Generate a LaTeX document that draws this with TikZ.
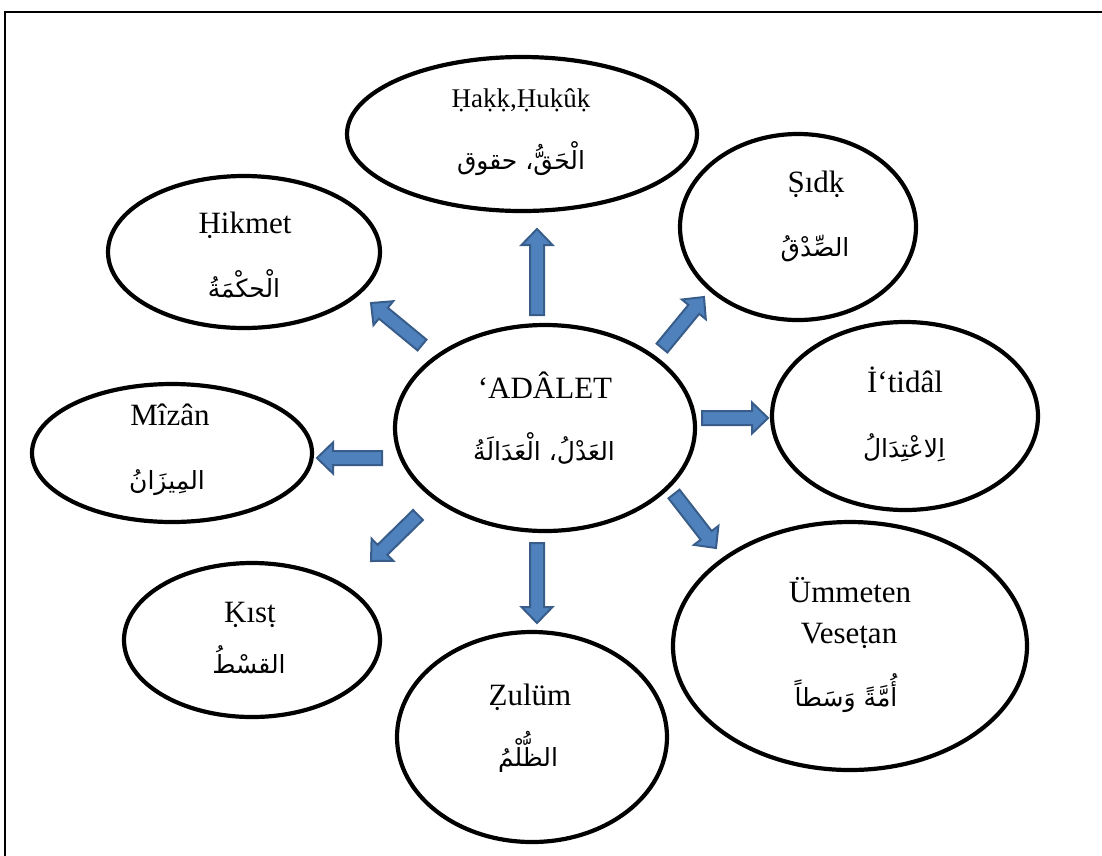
\documentclass[tikz,border=0pt]{standalone}
\usepackage{fontspec}
\setmainfont{Liberation Serif}
\newfontfamily\arabicfont[Script=Arabic]{DejaVu Sans}
\TeXXeTstate=1
\usetikzlibrary{calc,shapes.geometric}

\definecolor{arrowfill}{HTML}{4F81BD}
\definecolor{arrowline}{HTML}{385D8A}

\tikzset{
  bubble/.style={draw=black, line width=4.2pt, ellipse, fill=white, inner sep=0pt},
  lat/.style={inner sep=0pt, anchor=base, font=\fontsize{31}{36}\selectfont},
  latsmall/.style={lat, font=\fontsize{27}{32}\selectfont},
  ara/.style={inner sep=0pt, anchor=base, font=\arabicfont\fontsize{25}{30}\selectfont},
  flow/.style={fill=arrowfill, draw=arrowline, line width=2pt, line join=miter},
}

% block arrow from tail #1 to tip #2
\newcommand\flowarrow[2]{%
  \coordinate (hb) at ($(#2)!16pt!(#1)$);
  \draw[flow] ($(#1)!7pt!90:(#2)$) -- ($(hb)!7pt!-90:(#1)$) -- ($(hb)!15.5pt!-90:(#1)$)
    -- (#2) -- ($(hb)!15.5pt!90:(#1)$) -- ($(hb)!7pt!90:(#1)$)
    -- ($(#1)!7pt!-90:(#2)$) -- cycle;}

\begin{document}
\begin{tikzpicture}[x=1pt, y=-1pt]
\useasboundingbox (0,0) rectangle (1102,855);

% frame
\draw[line width=2pt] (5,860) -- (5,12) -- (1110,12);

% ellipses
\node[bubble, minimum width=300, minimum height=206] (adalet) at (545,428) {};
\node[bubble, minimum width=350, minimum height=154] (hakk)   at (522,134) {};
\node[bubble, minimum width=236, minimum height=186] (sidk)   at (798,227) {};
\node[bubble, minimum width=272, minimum height=152] (hikmet) at (244,252) {};
\node[bubble, minimum width=280, minimum height=138] (mizan)  at (172,453) {};
\node[bubble, minimum width=266, minimum height=188] (itidal) at (905,416) {};
\node[bubble, minimum width=354, minimum height=248] (ummet)  at (850,646) {};
\node[bubble, minimum width=256, minimum height=154] (kist)   at (252,640) {};
\node[bubble, minimum width=270, minimum height=210] (zulum)  at (532,737) {};

% texts
\node[lat] (adaletL) at (545,398) {‘ADÂLET};
\node[ara] (adaletA) at (544,460) {\beginR العَدْلُ، الْعَدَالَةُ\endR};

\node[latsmall] (hakkL) at (521,107) {Ḥaḳḳ,Ḥuḳûḳ};
\node[ara] (hakkA) at (521,169) {\beginR الْحَقُّ، حقوق\endR};

\node[lat] (sidkL) at (816,192) {Ṣıdḳ};
\node[ara] (sidkA) at (815,256) {\beginR الصِّدْقُ\endR};

\node[lat] (hikmetL) at (245,233) {Ḥikmet};
\node[ara] (hikmetA) at (244,297) {\beginR الْحكْمَةُ\endR};

\node[lat] (itidalL) at (905,392) {İ‘tidâl};
\node[ara] (itidalA) at (904,457) {\beginR اِلاعْتِدَالُ\endR};

\node[lat] (mizanL) at (170,425) {Mîzân};
\node[ara] (mizanA) at (167,489) {\beginR المِيزَانُ\endR};

\node[lat] (ummetL1) at (850,602) {Ümmeten};
\node[lat] (ummetL2) at (849,643) {Veseṭan};
\node[ara] (ummetA) at (846,706) {\beginR أُمَّةً وَسَطاً\endR};

\node[lat] (kistL) at (250,622) {Ḳısṭ};
\node[ara] (kistA) at (249,673) {\beginR القسْطُ\endR};

\node[lat] (zulumL) at (530,705) {Ẓulüm};
\node[ara] (zulumA) at (528,766) {\beginR الظُّلْمُ\endR};

% arrow ends
\coordinate (uT) at (537,315);  \coordinate (uH) at (537,229);
\coordinate (ulT) at (422,345); \coordinate (ulH) at (371,303);
\coordinate (urT) at (662,348); \coordinate (urH) at (704,297);
\coordinate (rT) at (702,418);  \coordinate (rH) at (768,418);
\coordinate (lT) at (382,458);  \coordinate (lH) at (317,458);
\coordinate (llT) at (418,515); \coordinate (llH) at (371,561);
\coordinate (lrT) at (674,494); \coordinate (lrH) at (716,548);
\coordinate (dT) at (537,543);  \coordinate (dH) at (537,623);

\flowarrow{uT}{uH}
\flowarrow{ulT}{ulH}
\flowarrow{urT}{urH}
\flowarrow{rT}{rH}
\flowarrow{lT}{lH}
\flowarrow{llT}{llH}
\flowarrow{lrT}{lrH}
\flowarrow{dT}{dH}
\end{tikzpicture}
\end{document}
